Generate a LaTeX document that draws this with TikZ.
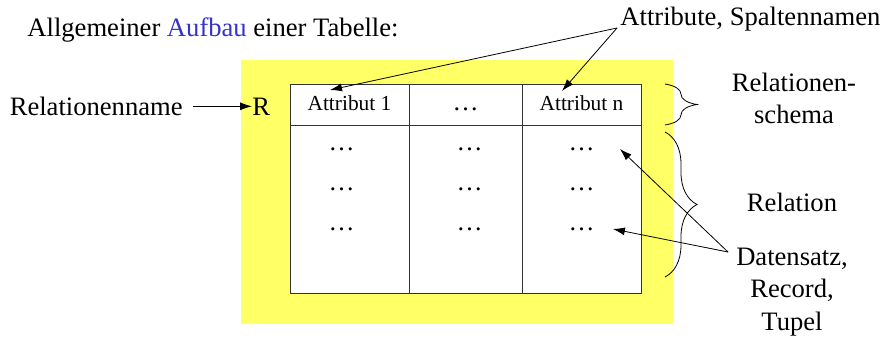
\documentclass[tikz,border=0pt]{standalone}
\usepackage{fontspec}
\setmainfont{Liberation Serif}
\usetikzlibrary{positioning}
\usetikzlibrary{arrows.meta}
\usetikzlibrary{decorations.pathreplacing}

\definecolor{tafelgelb}{RGB}{255,255,102}
\definecolor{aufbaublau}{RGB}{51,51,204}

\tikzset{
	zelle/.style={draw=black!80, fill=white, outer sep=0pt, inner sep=0pt, minimum width=59.5pt, minimum height=20.5pt, text height=6pt, text depth=0pt, font=\fontsize{10.7}{12}\selectfont},
	rumpf/.style={zelle, minimum height=84pt},
	schrift/.style={inner sep=0pt, font=\fontsize{13.3}{15.8}\selectfont},
	punkte/.style={inner sep=0pt, font=\fontsize{13}{15}\selectfont},
	klammer/.style={decorate, decoration={brace, amplitude=16pt}},
}

\begin{document}
\begin{tikzpicture}[x=0.5pt,y=-0.5pt,thin,>={Latex[length=6pt,width=4pt]}]
	\useasboundingbox (0,0) rectangle (883,338);
	\fill[tafelgelb] (241,60) rectangle (673,324);
	% Tabelle
	\node[zelle] (A1) at (349.5,104.5) {Attribut 1};
	\node[zelle, minimum width=56.5pt, font=\fontsize{13}{15}\selectfont, right=0pt of A1] (A2) {\ldots};
	\node[zelle, right=0pt of A2] (An) {Attribut n};
	\node[rumpf, below=0pt of A1] (B1) {};
	\node[rumpf, minimum width=56.5pt, below=0pt of A2] (B2) {};
	\node[rumpf, below=0pt of An] (Bn) {};
	\node[punkte] (d11) at (341.5,149) {\ldots};
	\node[punkte] (d12) at (469.5,149) {\ldots};
	\node[punkte] (d13) at (581.5,149) {\ldots};
	\node[punkte] (d21) at (341.5,189) {\ldots};
	\node[punkte] (d22) at (469.5,189) {\ldots};
	\node[punkte] (d23) at (581.5,189) {\ldots};
	\node[punkte] (d31) at (341.5,229) {\ldots};
	\node[punkte] (d32) at (469.5,229) {\ldots};
	\node[punkte] (d33) at (581.5,229) {\ldots};
	% Beschriftung
	\node[schrift, anchor=base west] (titel) at (27,36) {Allgemeiner \textcolor{aufbaublau}{Aufbau} einer Tabelle:};
	\node[schrift, anchor=base west] (R) at (252,115) {R};
	\node[schrift, anchor=base east] (relname) at (183,115) {Relationenname};
	\node[schrift, anchor=base west] (attr) at (620,25) {Attribute, Spaltennamen};
	\node[schrift, anchor=base, align=center] (schema) at (794,123) {Relationen-\\schema};
	\node[schrift, anchor=base] (relation) at (792,211) {Relation};
	\node[schrift, anchor=base, align=center] (tupel) at (792,330) {Datensatz,\\[0.3pt]Record,\\[0.3pt]Tupel};
	\coordinate (attrfuss) at (617,28);
	\coordinate (tupelfuss) at (728,252);
	\path[->]
	([xshift=5pt]relname.east |- R.west)	edge	(R.west)
	(attrfuss)	edge	(330,90)
	(attrfuss)	edge	(562,91)
	(tupelfuss)	edge	([xshift=12.5pt]d13.east)
	(tupelfuss)	edge	([xshift=9pt]d33.east);
	% Klammern
	\draw[klammer] ([xshift=12pt]An.north east) -- ([xshift=12pt]An.south east);
	\draw[klammer] ([xshift=12pt,yshift=-3.5pt]Bn.north east) -- ([xshift=12pt,yshift=8pt]Bn.south east);
\end{tikzpicture}
\end{document}
